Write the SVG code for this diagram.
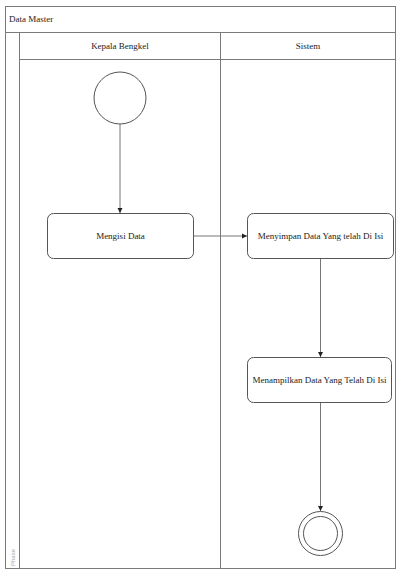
<svg xmlns="http://www.w3.org/2000/svg" width="398" height="570" viewBox="0 0 398 570">
<style>
.frame{fill:none;stroke:#7a7a7a;stroke-width:1}
.node{fill:#fff;stroke:#555;stroke-width:1}
.t{font-family:"Liberation Serif",serif;font-size:9px;fill:#222;text-anchor:middle}
.edge{fill:none;stroke:#777;stroke-width:1}
</style>
<defs>
<marker id="arr" markerWidth="6" markerHeight="6" refX="5" refY="3" orient="auto" markerUnits="userSpaceOnUse">
<path d="M0,0.5 L5,3 L0,5.5 z" fill="#222"/>
</marker>
</defs>
<rect width="398" height="570" fill="#fff"/>
<g id="pool">
<rect class="frame" x="5.5" y="6.5" width="390" height="562"/>
<line class="frame" x1="5.5" y1="32.5" x2="395.5" y2="32.5"/>
<line class="frame" x1="19.5" y1="32.5" x2="19.5" y2="568.5"/>
<line class="frame" x1="19.5" y1="59.5" x2="395.5" y2="59.5"/>
<line class="frame" x1="220.5" y1="32.5" x2="220.5" y2="568.5"/>
<text class="t" x="9" y="22" style="text-anchor:start">Data Master</text>
<text class="t" x="120" y="49">Kepala Bengkel</text>
<text class="t" x="308" y="49">Sistem</text>
<text x="15" y="566" transform="rotate(-90 15 566)" style="font-family:'Liberation Sans',sans-serif;font-size:6px;fill:#aaa">Phase</text>
</g>
<g id="connectors">
<line class="edge" x1="120" y1="124" x2="120" y2="213" marker-end="url(#arr)"/>
<line class="edge" x1="193" y1="236" x2="247" y2="236" marker-end="url(#arr)"/>
<line class="edge" x1="320.5" y1="259" x2="320.5" y2="357" marker-end="url(#arr)"/>
<line class="edge" x1="320.5" y1="403" x2="320.5" y2="511" marker-end="url(#arr)"/>
</g>
<g id="start">
<circle class="node" cx="120" cy="98" r="26"/>
</g>
<g id="mengisi">
<rect class="node" x="47.5" y="213.5" width="146" height="45" rx="6"/>
<text class="t" x="120.5" y="239">Mengisi Data</text>
</g>
<g id="menyimpan">
<rect class="node" x="247.5" y="213.5" width="146" height="45" rx="6"/>
<text class="t" x="320.5" y="239">Menyimpan Data Yang telah Di Isi</text>
</g>
<g id="menampilkan">
<rect class="node" x="247.5" y="357.5" width="144" height="45" rx="6"/>
<text class="t" x="319.5" y="383">Menampilkan Data Yang Telah Di Isi</text>
</g>
<g id="end">
<circle class="node" cx="320.5" cy="533.5" r="22"/>
<circle class="node" cx="320.5" cy="533.5" r="17"/>
</g>
</svg>
